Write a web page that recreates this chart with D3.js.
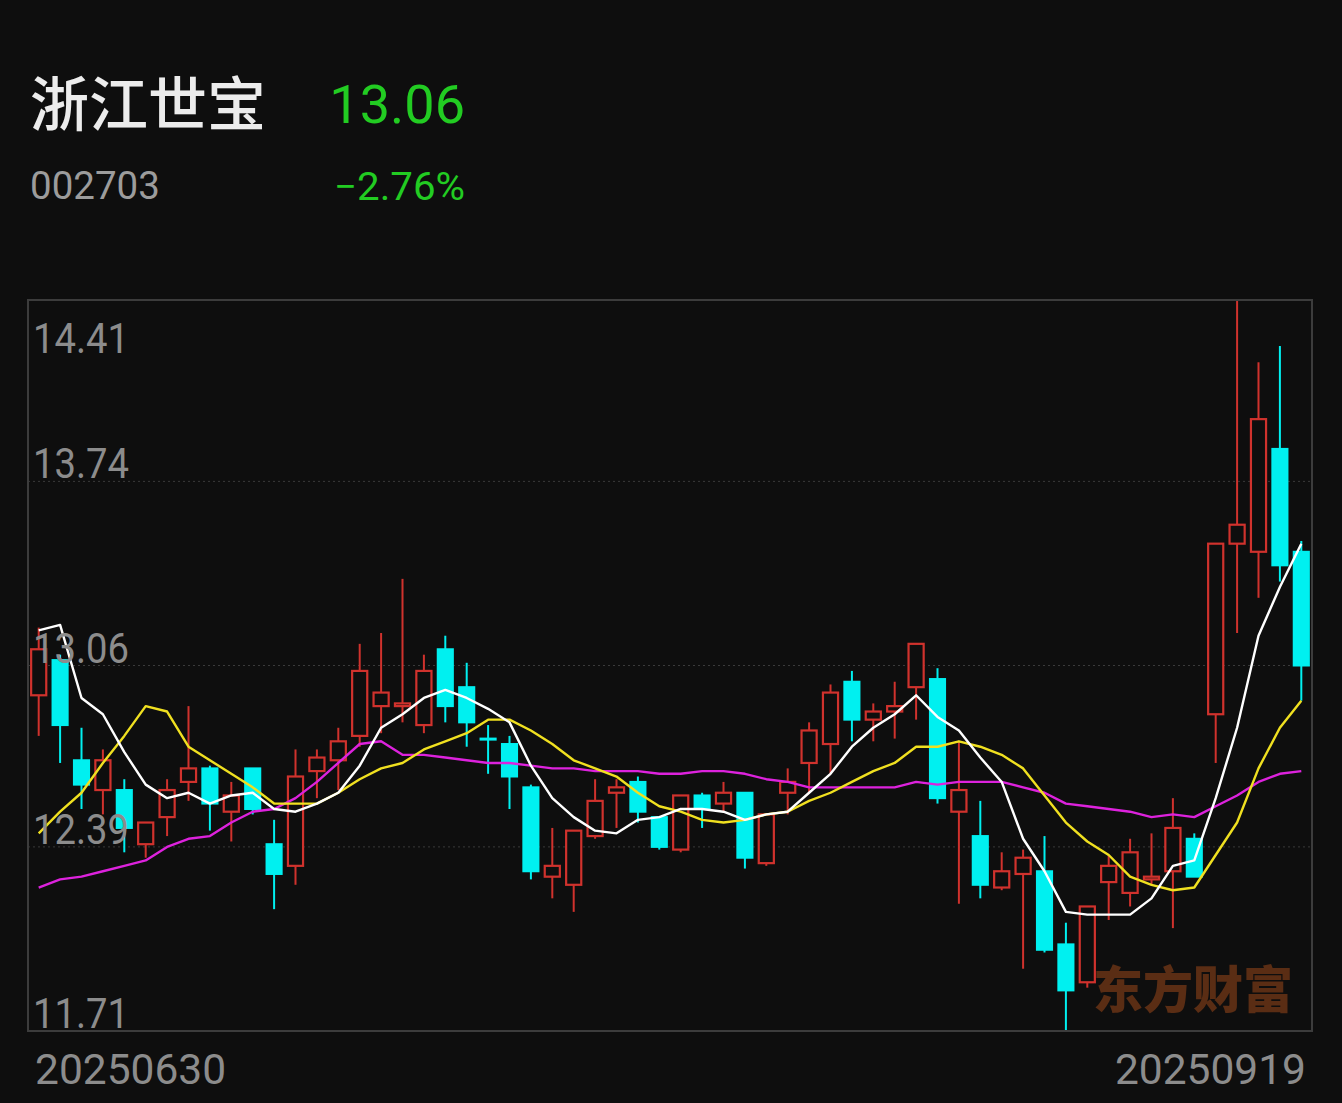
<!DOCTYPE html>
<html>
<head>
<meta charset="utf-8">
<script src="https://cdn.jsdelivr.net/npm/d3@7"></script>
<style>
  html, body { margin: 0; padding: 0; background: #0e0e0e; }
  svg { display: block; }
</style>
</head>
<body>
<div id="chart"></div>
<script>
// ---- data ----
const stockName = "浙江世宝";
const stockCode = "002703";
const lastPrice = "13.06";
const changePct = "-2.76%";

const dates = [
  "20250630",
  "20250701","20250702","20250703","20250704","20250707","20250708","20250709","20250710","20250711",
  "20250714","20250715","20250716","20250717","20250718","20250721","20250722","20250723","20250724","20250725",
  "20250728","20250729","20250730","20250731",
  "20250801","20250804","20250805","20250806","20250807","20250808","20250811","20250812","20250813","20250814","20250815",
  "20250818","20250819","20250820","20250821","20250822","20250825","20250826","20250827","20250828","20250829",
  "20250901","20250902","20250903","20250904","20250905","20250908","20250909","20250910","20250911","20250912",
  "20250915","20250916","20250917","20250918","20250919"
];

const open = [12.95,13.08,12.71,12.60,12.60,12.40,12.50,12.63,12.68,12.52,
  12.68,12.40,12.32,12.67,12.71,12.80,12.91,12.91,12.84,13.12,
  12.98,12.79,12.77,12.61,12.28,12.25,12.43,12.59,12.63,12.50,
  12.38,12.58,12.55,12.59,12.33,12.59,12.70,12.77,13.00,12.86,
  12.89,12.98,13.01,12.52,12.43,12.24,12.29,12.30,12.03,11.89,
  12.26,12.22,12.27,12.30,12.42,12.88,13.51,13.48,13.86,13.48];
const high = [13.20,13.10,12.83,12.75,12.64,12.48,12.64,12.91,12.69,12.63,
  12.68,12.49,12.75,12.75,12.83,13.14,13.18,13.38,13.10,13.17,
  13.07,12.84,12.80,12.62,12.46,12.45,12.64,12.64,12.65,12.50,
  12.58,12.59,12.63,12.59,12.51,12.68,12.85,12.99,13.04,12.92,
  13.00,13.14,13.05,12.78,12.56,12.37,12.38,12.43,12.11,12.17,
  12.36,12.42,12.44,12.57,12.44,13.51,14.41,14.18,14.24,13.52];
const low = [12.80,12.70,12.53,12.51,12.37,12.35,12.43,12.56,12.45,12.41,
  12.51,12.16,12.25,12.57,12.60,12.76,12.81,12.85,12.81,12.85,
  12.76,12.66,12.53,12.27,12.20,12.15,12.42,12.46,12.48,12.38,
  12.37,12.46,12.52,12.31,12.32,12.51,12.59,12.66,12.78,12.78,
  12.79,12.86,12.55,12.18,12.20,12.23,11.94,12.00,11.71,11.87,
  12.12,12.17,12.25,12.09,12.28,12.70,13.18,13.31,13.37,12.93];
const close = [13.12,12.84,12.62,12.71,12.46,12.48,12.60,12.68,12.55,12.58,
  12.53,12.29,12.65,12.72,12.78,13.04,12.96,12.92,13.04,12.91,
  12.85,12.79,12.65,12.30,12.32,12.45,12.56,12.61,12.52,12.39,
  12.58,12.53,12.59,12.35,12.51,12.63,12.82,12.96,12.86,12.89,
  12.91,13.14,12.57,12.60,12.25,12.30,12.35,12.01,11.86,12.17,
  12.32,12.37,12.28,12.46,12.28,13.51,13.58,13.97,13.43,13.06];

const ma5 = [13.19,13.21,12.94,12.88,12.74,12.62,12.57,12.59,12.55,12.58,
  12.59,12.53,12.52,12.55,12.59,12.69,12.83,12.88,12.94,12.97,
  12.94,12.90,12.85,12.69,12.57,12.50,12.45,12.44,12.49,12.50,
  12.53,12.53,12.52,12.49,12.51,12.52,12.59,12.66,12.76,12.83,
  12.88,12.95,12.87,12.82,12.72,12.63,12.42,12.30,12.15,12.14,
  12.14,12.14,12.20,12.32,12.34,12.57,12.83,13.17,13.35,13.51];
const ma10 = [12.44,12.52,12.59,12.70,12.80,12.91,12.89,12.76,12.71,12.66,
  12.61,12.55,12.55,12.55,12.59,12.64,12.68,12.70,12.75,12.78,
  12.81,12.86,12.86,12.82,12.77,12.71,12.68,12.65,12.59,12.54,
  12.52,12.49,12.48,12.49,12.51,12.52,12.56,12.59,12.63,12.67,
  12.70,12.76,12.76,12.78,12.76,12.73,12.68,12.58,12.48,12.41,
  12.36,12.28,12.25,12.23,12.24,12.36,12.48,12.68,12.83,12.93];
const ma20 = [12.24,12.27,12.28,12.30,12.32,12.34,12.39,12.42,12.43,12.48,
  12.52,12.53,12.57,12.63,12.70,12.77,12.78,12.73,12.73,12.72,
  12.71,12.70,12.70,12.69,12.68,12.68,12.67,12.67,12.67,12.66,
  12.66,12.67,12.67,12.66,12.64,12.63,12.61,12.61,12.61,12.61,
  12.61,12.63,12.62,12.63,12.63,12.63,12.61,12.59,12.55,12.54,
  12.53,12.52,12.50,12.51,12.50,12.54,12.58,12.63,12.66,12.67];

const yTicks = [14.41, 13.74, 13.06, 12.39, 11.71];
const yTickLabels = ["14.41", "13.74", "13.06", "12.39", "11.71"];
const xTickLabels = ["20250630", "20250919"];
const watermark = "东方财富";

// ---- layout ----
const W = 1342, H = 1103;
const plot = { left: 28, right: 1312, top: 300, bottom: 1031 };
const BG = "#0e0e0e";
const RED = "#d0322d";
const CYAN = "#00f0f0";
const GREEN = "#22cc22";

const svg = d3.select("#chart").append("svg")
  .attr("width", W).attr("height", H)
  .style("background", BG);

svg.append("rect").attr("width", W).attr("height", H).attr("fill", BG);

// header
svg.append("text").attr("x", 30).attr("y", 126)
  .attr("font-family", "'Noto Sans CJK SC', sans-serif")
  .attr("font-size", 59).attr("font-weight", 500)
  .attr("fill", "#ececec").text(stockName);
svg.append("text").attr("x", 465).attr("y", 123)
  .attr("text-anchor", "end")
  .attr("font-family", "Roboto, sans-serif")
  .attr("font-size", 54).attr("fill", GREEN).text(lastPrice);
svg.append("text").attr("x", 30).attr("y", 199)
  .attr("font-family", "Roboto, sans-serif")
  .attr("font-size", 38.5).attr("fill", "#9c9c9c").text(stockCode);
svg.append("text").attr("x", 465).attr("y", 200)
  .attr("text-anchor", "end")
  .attr("font-family", "Roboto, sans-serif")
  .attr("font-size", 39).attr("fill", GREEN)
  .attr("textLength", 131).attr("lengthAdjust", "spacingAndGlyphs")
  .text(changePct.replace("-", "\u2212"));

// scales
const idx = d3.range(close.length);
const x = d3.scaleBand().domain(idx).range([plot.left, plot.right]).paddingInner(0.2).paddingOuter(0.1);
const cx = i => x(i) + x.bandwidth() / 2;
const y = d3.scaleLinear().domain([11.71, 14.41]).range([plot.bottom, plot.top]);

// grid lines (dotted) at the inner ticks
svg.append("g").selectAll("line")
  .data(yTicks.slice(1, -1))
  .join("line")
  .attr("x1", plot.left).attr("x2", plot.right)
  .attr("y1", d => y(d)).attr("y2", d => y(d))
  .attr("stroke", "#3a3a3a").attr("stroke-width", 1)
  .attr("stroke-dasharray", "2,3");

// watermark
svg.append("text").attr("x", 1293).attr("y", 1008)
  .attr("text-anchor", "end")
  .attr("font-family", "'Noto Sans CJK SC', sans-serif")
  .attr("font-weight", 900)
  .attr("font-size", 50).attr("fill", "#5a2d14").text(watermark);

// candles
const candles = svg.append("g");
const bw = x.bandwidth();
idx.forEach(i => {
  const up = close[i] > open[i];
  const col = up ? RED : CYAN;
  const top = y(Math.max(open[i], close[i]));
  const bot = y(Math.min(open[i], close[i]));
  candles.append("line")
    .attr("x1", cx(i)).attr("x2", cx(i))
    .attr("y1", y(high[i])).attr("y2", y(low[i]))
    .attr("stroke", col).attr("stroke-width", 2);
  if (up) {
    candles.append("rect")
      .attr("x", x(i) + 1).attr("y", top)
      .attr("width", bw - 2).attr("height", Math.max(bot - top, 2))
      .attr("fill", BG).attr("stroke", col).attr("stroke-width", 2.2);
  } else {
    candles.append("rect")
      .attr("x", x(i)).attr("y", top - 1)
      .attr("width", bw).attr("height", Math.max(bot - top, 1) + 2)
      .attr("fill", col);
  }
});

// moving averages
const line = d3.line().x((d, i) => cx(i)).y(d => y(d));
[[ma20, "#dd22dd"], [ma10, "#f0e020"], [ma5, "#ffffff"]].forEach(([arr, c]) => {
  svg.append("path").datum(arr)
    .attr("d", line)
    .attr("fill", "none").attr("stroke", c)
    .attr("stroke-width", 2.4).attr("stroke-linejoin", "round");
});

// frame
svg.append("rect")
  .attr("x", plot.left).attr("y", plot.top)
  .attr("width", plot.right - plot.left).attr("height", plot.bottom - plot.top)
  .attr("fill", "none").attr("stroke", "#3c3c3c").attr("stroke-width", 2);

// y labels
svg.append("g").selectAll("text")
  .data(yTicks)
  .join("text")
  .attr("x", 33)
  .attr("y", (d, i) => i === 0 ? y(d) + 53 : y(d) - 3)
  .attr("font-family", "Roboto, sans-serif")
  .attr("font-size", 42)
  .attr("textLength", 96).attr("lengthAdjust", "spacingAndGlyphs")
  .attr("fill", "#8c8c8c")
  .text((d, i) => yTickLabels[i]);

// x labels
svg.append("text").attr("x", 35).attr("y", 1084)
  .attr("font-family", "Roboto, sans-serif").attr("font-size", 42.5)
  .attr("fill", "#8c8c8c").text(xTickLabels[0]);
svg.append("text").attr("x", 1306).attr("y", 1084)
  .attr("text-anchor", "end")
  .attr("font-family", "Roboto, sans-serif").attr("font-size", 42.5)
  .attr("fill", "#8c8c8c").text(xTickLabels[1]);
</script>
</body>
</html>
